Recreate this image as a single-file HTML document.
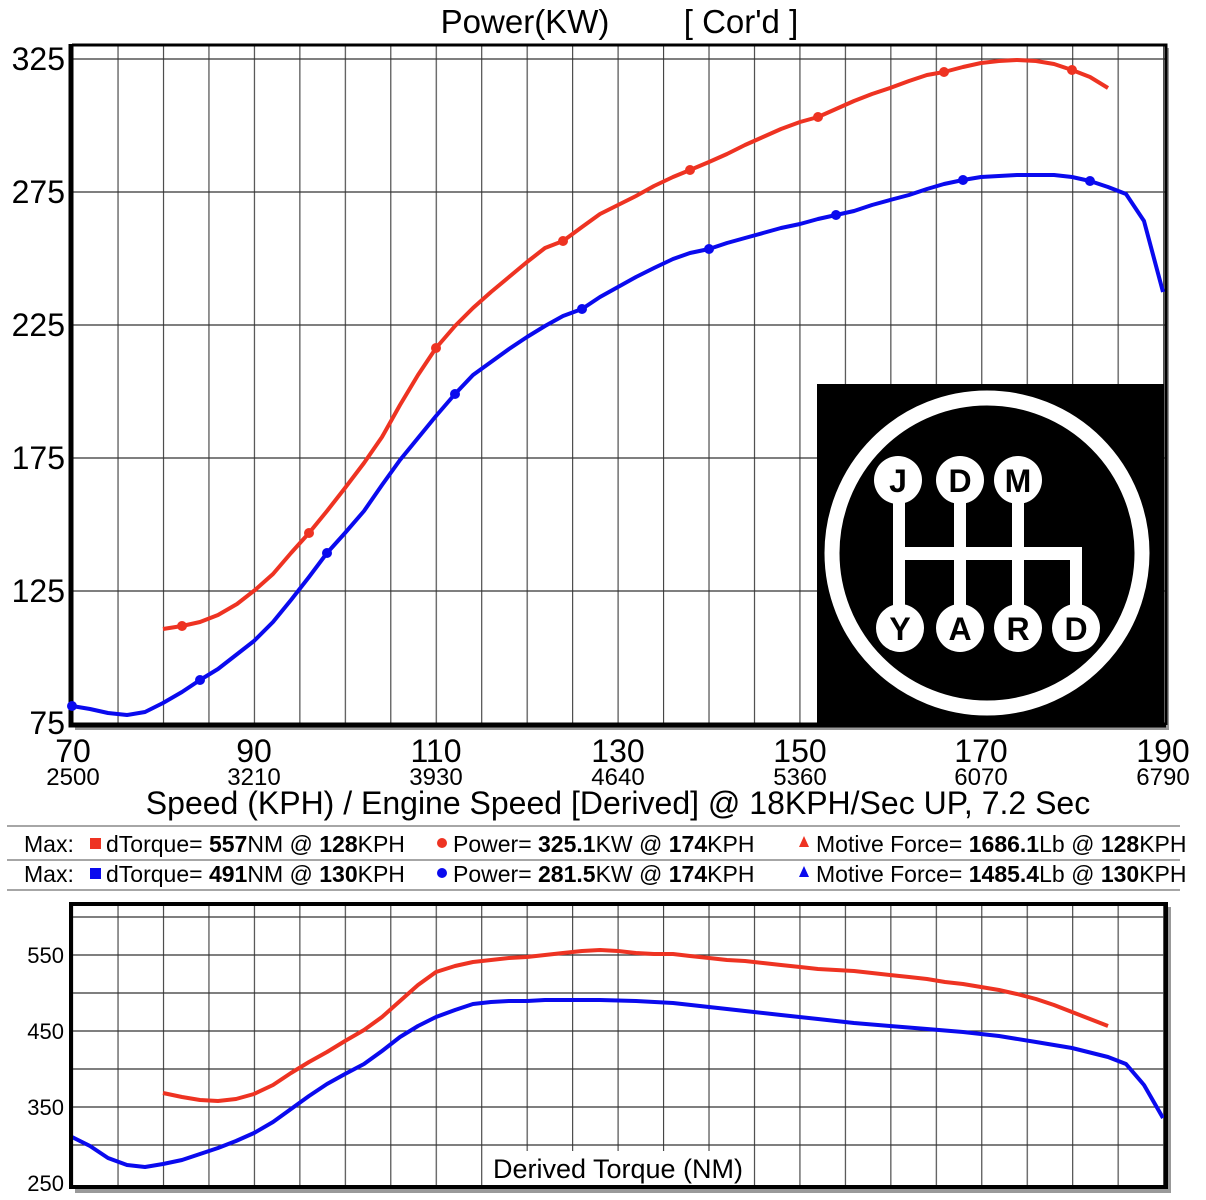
<!DOCTYPE html>
<html><head><meta charset="utf-8"><style>
body{margin:0;background:#fff;}
svg{display:block;font-family:"Liberation Sans",Arial,sans-serif;}
</style></head><body>
<svg width="1206" height="1200" viewBox="0 0 1206 1200" xmlns="http://www.w3.org/2000/svg">
<defs>
<pattern id="vg" x="72" y="0" width="45.46" height="2000" patternUnits="userSpaceOnUse">
<line x1="0.5" y1="0" x2="0.5" y2="2000" stroke="#444" stroke-width="1.3"/>
</pattern>
</defs>
<text x="525" y="33" font-size="33" text-anchor="middle">Power(KW)</text>
<text x="741" y="33" font-size="33" text-anchor="middle">[ Cor'd ]</text>

<!-- top chart -->
<rect x="75" y="48" width="1094" height="682" fill="#999"/>
<rect x="72" y="45" width="1094" height="680" fill="#fff"/>
<rect x="72" y="45" width="1094" height="680" fill="url(#vg)"/>
<g stroke="#333" stroke-width="1.3">
<line x1="72" y1="59" x2="1165" y2="59"/>
<line x1="72" y1="192" x2="1165" y2="192"/>
<line x1="72" y1="325" x2="1165" y2="325"/>
<line x1="72" y1="458" x2="1165" y2="458"/>
<line x1="72" y1="591" x2="1165" y2="591"/>
</g>
<!-- logo -->
<rect x="817" y="384" width="347" height="341" fill="#000"/>
<circle cx="987" cy="553" r="155" fill="none" stroke="#fff" stroke-width="15"/>
<g fill="#fff">
<rect x="893" y="478" width="12" height="150"/>
<rect x="954" y="478" width="12" height="150"/>
<rect x="1012" y="478" width="12" height="150"/>
<rect x="893" y="547" width="189" height="13"/>
<rect x="1070" y="547" width="12" height="80"/>
<circle cx="898" cy="480" r="24"/><circle cx="960" cy="480" r="24"/><circle cx="1018" cy="480" r="24"/>
<circle cx="900" cy="628" r="24"/><circle cx="960" cy="628" r="24"/><circle cx="1018" cy="628" r="24"/><circle cx="1076" cy="628" r="24"/>
</g>
<g font-size="32" font-weight="bold" text-anchor="middle" fill="#000">
<text x="898" y="492">J</text><text x="960" y="492">D</text><text x="1018" y="492">M</text>
<text x="900" y="640">Y</text><text x="960" y="640">A</text><text x="1018" y="640">R</text><text x="1076" y="640">D</text>
</g>
<!-- frame -->
<path d="M72 45 H1166 V725" fill="none" stroke="#000" stroke-width="3"/>
<path d="M71 44 V725 H1166" fill="none" stroke="#000" stroke-width="5"/>

<polyline fill="none" stroke="#ee3322" stroke-width="4" stroke-linejoin="round" points="163,629 182,626 200,622 218,615 237,604 255,590 273,574 291,553 309,533 327,511 345,488 364,463 382,437 400,405 418,375 436,348 455,326 473,308 491,292 509,277 527,262 545,248 563,241 582,227 600,214 618,205 636,196 654,186 673,177 690,170 709,162 727,154 745,145 763,137 781,129 800,122 818,117 836,109 854,101 872,94 890,88 909,81 927,75 944,72 963,67 981,63 999,61 1017,60 1036,61 1054,64 1072,70 1090,77 1108,88"/>
<polyline fill="none" stroke="#0a0aee" stroke-width="4" stroke-linejoin="round" points="72,706 90,709 108,713 127,715 145,712 163,703 182,692 200,680 218,669 236,655 254,641 273,622 291,600 309,577 327,553 345,533 364,511 382,485 400,460 418,438 436,416 455,394 473,375 491,362 509,349 527,337 545,326 563,316 582,309 600,297 618,287 636,277 654,268 673,259 690,253 709,249 727,243 745,238 763,233 781,228 800,224 818,219 836,215 854,211 872,205 890,200 909,195 927,189 944,184 963,180 981,177 999,176 1017,175 1036,175 1054,175 1072,177 1090,181 1108,187 1126,194 1144,221 1163,292"/>
<g fill="#ee3322"><circle cx="182" cy="626" r="5"/><circle cx="309" cy="533" r="5"/><circle cx="436" cy="348" r="5"/><circle cx="563" cy="241" r="5"/><circle cx="690" cy="170" r="5"/><circle cx="818" cy="117" r="5"/><circle cx="944" cy="72" r="5"/><circle cx="1072" cy="70" r="5"/></g>
<g fill="#0a0aee"><circle cx="72" cy="706" r="5"/><circle cx="200" cy="680" r="5"/><circle cx="327" cy="553" r="5"/><circle cx="455" cy="394" r="5"/><circle cx="582" cy="309" r="5"/><circle cx="709" cy="249" r="5"/><circle cx="836" cy="215" r="5"/><circle cx="963" cy="180" r="5"/><circle cx="1090" cy="181" r="5"/></g>

<g font-size="32" text-anchor="end">
<text x="65" y="70">325</text><text x="65" y="203">275</text><text x="65" y="336">225</text><text x="65" y="469">175</text><text x="65" y="602">125</text><text x="65" y="734">75</text>
</g>
<g font-size="32" text-anchor="middle">
<text x="73" y="762">70</text><text x="254" y="762">90</text><text x="436" y="762">110</text><text x="618" y="762">130</text><text x="800" y="762">150</text><text x="981" y="762">170</text><text x="1163" y="762">190</text>
</g>
<g font-size="24" text-anchor="middle">
<text x="73" y="785">2500</text><text x="254" y="785">3210</text><text x="436" y="785">3930</text><text x="618" y="785">4640</text><text x="800" y="785">5360</text><text x="981" y="785">6070</text><text x="1163" y="785">6790</text>
</g>
<text x="618" y="814" font-size="32" text-anchor="middle">Speed (KPH) / Engine Speed [Derived] @ 18KPH/Sec UP, 7.2 Sec</text>

<!-- legend -->
<g stroke="#888" stroke-width="1.5"><line x1="7" y1="826" x2="1180" y2="826"/><line x1="7" y1="860" x2="1180" y2="860"/><line x1="7" y1="890" x2="1180" y2="890"/></g>
<g font-size="23">
<text x="24" y="852">Max:</text>
<rect x="90" y="838" width="11" height="11" fill="#ee3322"/>
<text x="106" y="852">dTorque= <tspan font-weight="bold">557</tspan>NM @ <tspan font-weight="bold">128</tspan>KPH</text>
<circle cx="442" cy="843" r="5" fill="#ee3322"/>
<text x="453" y="852">Power= <tspan font-weight="bold">325.1</tspan>KW @ <tspan font-weight="bold">174</tspan>KPH</text>
<polygon points="804,836 799,847 809,847" fill="#ee3322"/>
<text x="816" y="852">Motive Force= <tspan font-weight="bold">1686.1</tspan>Lb @ <tspan font-weight="bold">128</tspan>KPH</text>
<text x="24" y="882">Max:</text>
<rect x="90" y="868" width="11" height="11" fill="#0a0aee"/>
<text x="106" y="882">dTorque= <tspan font-weight="bold">491</tspan>NM @ <tspan font-weight="bold">130</tspan>KPH</text>
<circle cx="442" cy="873" r="5" fill="#0a0aee"/>
<text x="453" y="882">Power= <tspan font-weight="bold">281.5</tspan>KW @ <tspan font-weight="bold">174</tspan>KPH</text>
<polygon points="804,866 799,877 809,877" fill="#0a0aee"/>
<text x="816" y="882">Motive Force= <tspan font-weight="bold">1485.4</tspan>Lb @ <tspan font-weight="bold">130</tspan>KPH</text>
</g>

<!-- bottom chart -->
<rect x="75" y="907" width="1096" height="286" fill="#999"/>
<rect x="72" y="905" width="1094" height="283" fill="#fff"/>
<rect x="72" y="905" width="1094" height="283" fill="url(#vg)"/>
<g stroke="#333" stroke-width="1.3">
<line x1="72" y1="917" x2="1165" y2="917"/><line x1="72" y1="955" x2="1165" y2="955"/><line x1="72" y1="993" x2="1165" y2="993"/><line x1="72" y1="1031" x2="1165" y2="1031"/><line x1="72" y1="1069" x2="1165" y2="1069"/><line x1="72" y1="1107" x2="1165" y2="1107"/><line x1="72" y1="1145" x2="1165" y2="1145"/>
</g>
<rect x="486" y="1151" width="264" height="35" fill="#fff"/>
<text x="618" y="1178" font-size="27" text-anchor="middle">Derived Torque (NM)</text>
<polyline fill="none" stroke="#ee3322" stroke-width="4" stroke-linejoin="round" points="163,1093 182,1097 200,1100 218,1101 236,1099 254,1094 273,1085 291,1073 309,1062 327,1052 345,1041 364,1030 382,1017 400,1001 418,985 436,972 455,966 473,962 491,960 509,958 527,957 545,955 563,953 582,951 600,950 618,951 636,953 654,954 673,954 690,956 709,958 727,960 745,961 763,963 781,965 800,967 818,969 836,970 854,971 872,973 890,975 909,977 927,979 945,982 963,984 981,987 999,990 1017,994 1036,999 1054,1005 1072,1012 1090,1019 1108,1026"/>
<polyline fill="none" stroke="#0a0aee" stroke-width="4" stroke-linejoin="round" points="72,1137 90,1146 108,1158 127,1165 145,1167 163,1164 182,1160 200,1154 218,1148 236,1141 254,1133 273,1122 291,1109 309,1096 327,1084 345,1074 364,1064 382,1051 400,1037 418,1026 436,1017 455,1010 473,1004 491,1002 509,1001 527,1001 545,1000 563,1000 600,1000 636,1001 673,1003 709,1007 745,1011 781,1015 818,1019 854,1023 890,1026 927,1029 963,1032 999,1036 1036,1042 1072,1048 1108,1057 1126,1064 1144,1085 1163,1118"/>
<rect x="71" y="904" width="1095" height="283" fill="none" stroke="#000" stroke-width="4"/>
<g font-size="22" text-anchor="end">
<text x="64" y="963">550</text><text x="64" y="1039">450</text><text x="64" y="1115">350</text><text x="64" y="1191">250</text>
</g>
</svg>
</body></html>
